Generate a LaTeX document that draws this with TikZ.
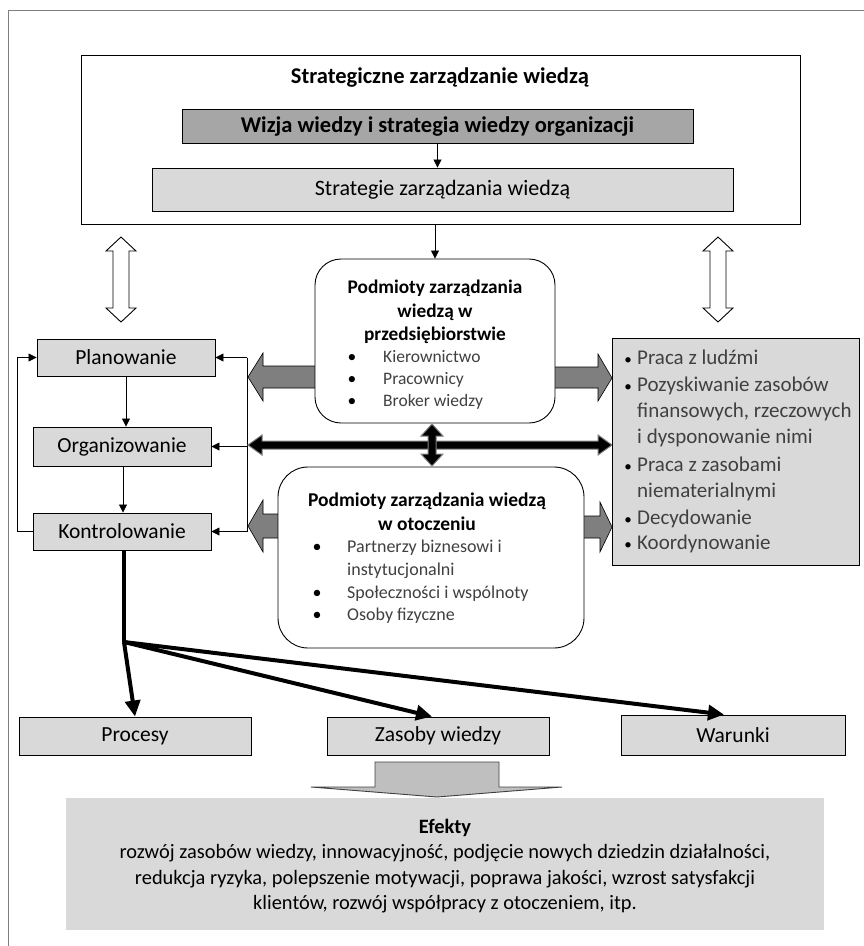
\documentclass[tikz,border=0pt]{standalone}
\usepackage{fontspec}
\setmainfont{Carlito}
\usetikzlibrary{arrows.meta,calc}
\definecolor{lgray}{HTML}{D9D9D9}
\definecolor{dgray}{HTML}{A6A6A6}
\definecolor{agray}{HTML}{7F7F7F}
\definecolor{txtgray}{HTML}{404040}
\definecolor{framegray}{HTML}{7F7F7F}
\definecolor{egray}{HTML}{BFBFBF}
\begin{document}
\begin{tikzpicture}[x=1pt,y=-1pt,
  box/.style={draw=black, line width=0.9pt, inner sep=0pt},
  lbox/.style={box, fill=lgray, font=\fontsize{21.5}{24}\selectfont},
  rbox/.style={draw=black, line width=0.9pt, fill=white, inner sep=0pt},
  arr/.style={-{Triangle[length=8pt,width=8pt]}, line width=0.8pt},
  tharr/.style={-{Triangle[length=16pt,width=15pt]}, line width=4pt},
  garrow/.style={fill=agray, draw=black, line width=0.6pt},
  harrow/.style={fill=white, draw=black, line width=0.9pt},
  barrow/.style={fill=black, draw=agray, line width=1pt},
  item/.style={anchor=west, inner sep=0pt, text height=12pt, text depth=4pt, text=txtgray},
  bul/.style={inner sep=0pt, text height=12pt, text depth=4pt}
]
\useasboundingbox (0,0) rectangle (864,946);
\draw[framegray, line width=1pt] (8,946) -- (8,10) -- (864,10);

% top block
\node[rbox, minimum width=719pt, minimum height=169pt] (top) at (440.5,139.5) {};
\node[font=\bfseries\fontsize{22.5}{26}\selectfont] (toptitle) at (440,78) {Strategiczne zarządzanie wiedzą};
\node[box, fill=dgray, minimum width=511pt, minimum height=34pt, font=\bfseries\fontsize{22.5}{26}\selectfont] (vision) at (437.5,126.5) {Wizja wiedzy i strategia wiedzy organizacji};
\node[lbox, minimum width=581pt, minimum height=43pt, font=\fontsize{22}{26}\selectfont] (strat) at (442.5,189.5) {Strategie zarządzania wiedzą};
\draw[arr] (vision.south) -- (vision.south |- strat.north);

% hollow double arrows
\draw[harrow] (121,237) -- (136,251) -- (129,251) -- (129,308) -- (136,308) -- (121,322) -- (106,308) -- (113,308) -- (113,251) -- (106,251) -- cycle;
\draw[harrow] (718,237) -- (733,251) -- (726,251) -- (726,308) -- (733,308) -- (718,322) -- (703,308) -- (710,308) -- (710,251) -- (703,251) -- cycle;

% management functions
\node[lbox, minimum width=178pt, minimum height=37pt] (plan) at (126,357.5) {Planowanie};
\node[lbox, minimum width=178pt, minimum height=39pt] (org) at (122,446.5) {Organizowanie};
\node[lbox, minimum width=178pt, minimum height=37pt] (kon) at (122,531.5) {Kontrolowanie};
\draw[arr] (plan.south) -- (plan.south |- org.north);
\draw[arr] ([xshift=1pt]org.south) -- ([xshift=1pt]org.south |- kon.north);
\draw[arr] (kon.west) -- ++(-15,0) |- (plan.west);

% feedback line
\coordinate (fbtop) at (247,357.5);
\coordinate (fbbot) at (247,531.5);
\draw[line width=0.8pt] (fbtop) -- (fbbot);
\draw[arr] (fbtop) -- (plan.east);
\draw[arr] (fbtop |- org.east) -- (org.east);
\draw[arr] (fbbot) -- (kon.east);

% gray block arrows
\draw[garrow] (316,366) -- (263,366) -- (263,353) -- (248,377) -- (263,401) -- (263,388) -- (316,388) -- cycle;
\draw[garrow] (554,367) -- (598,367) -- (598,354) -- (612,378) -- (598,401) -- (598,388) -- (554,388) -- cycle;
\draw[garrow] (279,514) -- (263,514) -- (263,500) -- (248,526) -- (263,552) -- (263,538) -- (279,538) -- cycle;
\draw[garrow] (583,516) -- (600,516) -- (600,502) -- (612,527) -- (600,552) -- (600,538) -- (583,538) -- cycle;

% rounded box 1
\node[rbox, rounded corners=26pt, minimum width=240pt, minimum height=164pt] (pod1) at (435,341) {};
\draw[arr] (pod1.north |- top.south) -- (pod1.north);
\node[align=center, font=\bfseries\fontsize{19.3}{23.5}\selectfont] (pod1t) at (435,312) {Podmioty zarządzania\\wiedzą w\\przedsiębiorstwie};
\begin{scope}[font=\fontsize{17.5}{21}\selectfont]
\node[bul] (b11) at (352,358) {\textbullet};
\node[item] (i11) at (383,358) {Kierownictwo};
\node[bul] (b12) at (352,380) {\textbullet};
\node[item] (i12) at (383,380) {Pracownicy};
\node[bul] (b13) at (352,402) {\textbullet};
\node[item] (i13) at (383,402) {Broker wiedzy};
\end{scope}

% rounded box 2
\node[rbox, rounded corners=30pt, minimum width=306pt, minimum height=181pt] (pod2) at (431,557.5) {};
\node[align=center, font=\bfseries\fontsize{19.5}{24}\selectfont] (pod2t) at (427,512) {Podmioty zarządzania wiedzą\\w otoczeniu};
\begin{scope}[font=\fontsize{18}{21}\selectfont]
\node[bul] (b21) at (317,548) {\textbullet};
\node[item] (i21) at (347,548) {Partnerzy biznesowi i};
\node[item] (i21b) at (347,571) {instytucjonalni};
\node[bul] (b22) at (317,594) {\textbullet};
\node[item] (i22) at (347,594) {Społeczności i wspólnoty};
\node[bul] (b23) at (317,616) {\textbullet};
\node[item] (i23) at (347,616) {Osoby fizyczne};
\end{scope}

% black double arrows
\draw[barrow] (248,445) -- (262,435) -- (262,441) -- (598,441) -- (598,435) -- (612,445) -- (598,455) -- (598,449) -- (262,449) -- (262,455) -- cycle;
\draw[barrow] (432,424) -- (443,436) -- (436,436) -- (436,454) -- (443,454) -- (432,466) -- (421,454) -- (428,454) -- (428,436) -- (421,436) -- cycle;

% right box
\node[box, fill=lgray, minimum width=247pt, minimum height=227pt] (act) at (735.5,451.5) {};
\begin{scope}[font=\fontsize{21}{24}\selectfont]
\node[bul, font=\fontsize{15}{16}\selectfont] at (628,360) {\textbullet};
\node[item] (r1) at (637,360) {Praca z ludźmi};
\node[bul, font=\fontsize{15}{16}\selectfont] at (628,387) {\textbullet};
\node[item] (r2) at (637,387) {Pozyskiwanie zasobów};
\node[item] (r2b) at (637,413) {finansowych, rzeczowych};
\node[item] (r2c) at (637,439) {i dysponowanie nimi};
\node[bul, font=\fontsize{15}{16}\selectfont] at (628,467) {\textbullet};
\node[item] (r3) at (637,467) {Praca z zasobami};
\node[item] (r3b) at (637,493) {niematerialnymi};
\node[bul, font=\fontsize{15}{16}\selectfont] at (628,520) {\textbullet};
\node[item] (r4) at (637,520) {Decydowanie};
\node[bul, font=\fontsize{15}{16}\selectfont] at (628,545) {\textbullet};
\node[item] (r5) at (637,545) {Koordynowanie};
\end{scope}

% bottom boxes
\node[lbox, minimum width=232pt, minimum height=38pt] (proc) at (135,736) {Procesy};
\node[lbox, minimum width=222pt, minimum height=38pt] (zas) at (438,736) {Zasoby wiedzy};
\node[lbox, minimum width=224pt, minimum height=40pt] (war) at (733,735) {Warunki};
\coordinate (br) at (124,642);
\draw[line width=4pt] (kon.south -| br) -- (br);
\draw[tharr] (br) -- (proc.north);
\draw[tharr] (br) -- ([xshift=-6pt]zas.north);
\draw[tharr] (br) -- ([xshift=-9pt]war.north);

% effects arrow and box
\draw[fill=egray, draw=black!75, line width=0.9pt] (375,762) -- (499,762) -- (499,787) -- (562,787) -- (437,797) -- (311,787) -- (375,787) -- cycle;
\node[fill=lgray, minimum width=758pt, minimum height=132pt, inner sep=0pt] (eff) at (445,864) {};
\node[align=center, font=\fontsize{20.4}{25.3}\selectfont] (efft) at (445,866) {\textbf{Efekty}\\rozwój zasobów wiedzy, innowacyjność, podjęcie nowych dziedzin działalności,\\redukcja ryzyka, polepszenie motywacji, poprawa jakości, wzrost satysfakcji\\klientów, rozwój współpracy z otoczeniem, itp.};
\end{tikzpicture}
\end{document}
